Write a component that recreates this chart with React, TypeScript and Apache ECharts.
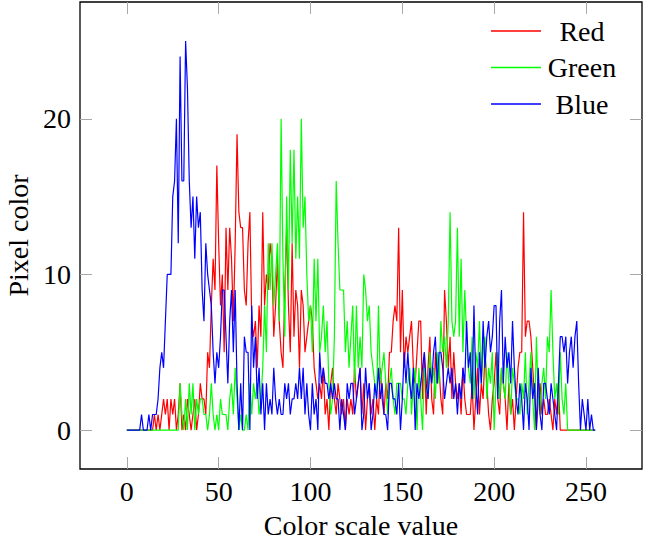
import React, { useEffect, useRef } from "react";
import * as echarts from "echarts";

// Histogram counts for colour-scale values 0..255 (16 values per row)
const redCounts = [
  0,0,0,0,0,0,0,0,0,0,0,0,0,0,0,1,
  0,1,0,1,2,1,2,0,2,1,2,0,1,3,0,1,
  0,2,1,0,1,2,0,1,3,2,2,1,5,4,8,11,
  9,17,12,8,10,5,13,9,13,11,7,12,19,14,13,13,
  9,8,12,14,7,6,7,4,8,6,14,8,10,9,12,11,
  6,8,11,7,5,4,9,13,8,5,12,6,9,8,4,9,
  8,5,6,7,8,7,4,3,2,3,2,4,1,2,0,3,
  4,2,1,3,2,1,2,0,2,1,2,1,4,2,3,4,
  1,3,0,2,3,1,2,0,2,1,4,2,1,3,2,5,
  5,7,8,7,13,5,9,4,6,5,6,7,4,3,5,7,
  7,2,5,1,4,6,2,1,5,3,4,2,1,9,7,4,
  6,2,5,3,2,3,1,4,2,1,1,1,3,0,2,4,
  1,3,2,5,3,1,0,2,3,5,2,1,4,3,2,0,
  3,1,2,0,2,4,5,5,14,6,7,7,6,4,2,0,
  2,3,1,2,1,1,2,1,0,2,1,3,0,0,0,0,
  0,0,0,0,0,0,0,0,0,0,0,0,0,0,0,0,
];

const greenCounts = [
  0,0,0,0,0,0,0,0,0,0,0,0,0,0,0,0,
  0,0,0,0,0,0,0,0,0,0,0,0,0,3,1,0,
  2,0,3,1,3,0,2,1,2,2,1,1,0,1,3,1,
  0,1,0,2,1,1,1,0,2,3,1,4,2,0,1,0,
  0,1,0,3,1,3,2,3,1,2,4,8,5,12,9,12,
  8,10,12,7,20,11,6,15,9,18,12,18,11,15,11,20,
  13,15,10,7,8,5,11,7,11,5,6,8,5,7,3,1,
  2,6,16,12,9,9,9,5,7,4,6,8,3,8,4,6,
  4,10,9,7,8,5,4,3,2,8,3,4,5,3,1,3,
  4,2,1,3,3,3,2,2,1,3,4,1,3,4,0,4,
  2,0,4,3,2,5,3,4,2,5,3,7,5,6,4,7,
  14,7,6,7,13,6,11,5,9,6,4,3,6,2,5,4,
  7,3,5,6,2,4,3,5,0,3,5,2,4,3,2,5,
  3,1,4,3,2,2,1,3,2,5,1,3,5,2,0,6,
  2,1,3,4,2,6,5,9,5,2,3,1,5,2,1,3,
  0,0,0,0,0,0,0,0,0,0,0,0,0,0,0,0,
];

const blueCounts = [
  0,0,0,0,0,0,0,0,1,0,0,0,1,0,1,1,
  1,2,4,5,4,7,10,10,10,15,16,20,12,24,16,16,
  25,22,16,13,15,11,15,13,14,9,7,12,10,9,8,5,
  3,5,4,6,9,9,6,3,7,9,5,9,3,0,3,0,
  6,5,5,0,8,4,6,2,4,1,3,0,3,1,2,1,
  4,2,1,2,1,1,3,2,3,1,2,2,3,2,4,2,
  4,1,3,1,0,3,1,2,0,5,3,4,3,3,2,3,
  2,3,2,2,0,2,1,0,3,2,3,3,1,2,3,4,
  0,1,4,2,3,0,1,3,2,4,2,3,1,1,0,3,
  3,2,2,1,3,0,2,5,3,5,3,2,4,0,3,2,
  3,4,5,3,2,4,3,5,6,3,5,5,4,2,3,4,
  3,4,2,3,1,3,2,4,3,7,4,5,2,8,3,1,
  5,3,7,4,6,7,5,6,8,8,2,7,9,3,6,4,
  5,3,7,4,2,1,3,2,0,3,2,0,4,2,3,0,
  4,1,0,3,3,2,1,3,2,1,0,3,6,6,5,6,
  3,5,6,4,6,7,3,0,2,1,0,2,0,1,0,0,
];

const seriesNames = ["Red", "Green", "Blue"];
const xTicks = [0, 50, 100, 150, 200, 250];
const yTicks = [0, 10, 20];

const FONT = "'Liberation Serif', 'Times New Roman', serif";
const TICK_COLOR = "#a8a8a8";

function toPoints(values: number[]) {
  return values.map((v, i) => [i, v]);
}

export default function App() {
  const ref = useRef<HTMLDivElement | null>(null);

  useEffect(() => {
    if (!ref.current) return;
    const chart = echarts.init(ref.current, null, { renderer: "svg" });
    const colors = ["#ff0000", "#00ff00", "#0000ff"];
    const data = [redCounts, greenCounts, blueCounts];

    const tickStyle = { color: TICK_COLOR, width: 1 };
    const labelStyle = { fontFamily: FONT, fontSize: 28, color: "#000" };
    const hiddenLine = { show: false, onZero: false };

    chart.setOption({
      animation: false,
      grid: {
        left: 80,
        right: 3,
        top: 2,
        bottom: 72,
        show: true,
        borderColor: "#000",
        borderWidth: 1.3,
        backgroundColor: "transparent",
        containLabel: false,
        outerBoundsMode: "none",
      },
      legend: {
        orient: "vertical",
        left: 491,
        top: 17,
        padding: 0,
        itemWidth: 50,
        itemHeight: 1.5,
        itemGap: 8.5,
        itemTextGap: 5,
        icon: "rect",
        data: seriesNames,
        formatter: "{a|{name}}",
        textStyle: {
          rich: {
            a: {
              width: 72,
              align: "center",
              fontFamily: FONT,
              fontSize: 28,
              lineHeight: 28,
              color: "#000",
            },
          },
        },
      },
      xAxis: [
        {
          type: "value",
          min: -25.5,
          max: 280.5,
          position: "bottom",
          splitLine: { show: false },
          axisLine: hiddenLine,
          axisTick: { inside: true, length: 12, customValues: xTicks, lineStyle: tickStyle },
          axisLabel: { customValues: xTicks, margin: 8, ...labelStyle },
          name: "Color scale value",
          nameLocation: "middle",
          nameGap: 42,
          nameTextStyle: { ...labelStyle },
        },
        {
          type: "value",
          min: -25.5,
          max: 280.5,
          position: "top",
          splitLine: { show: false },
          axisLine: hiddenLine,
          axisTick: { inside: true, length: 12, customValues: xTicks, lineStyle: tickStyle },
          axisLabel: { show: false },
        },
      ],
      yAxis: [
        {
          type: "value",
          min: -2.5,
          max: 27.5,
          position: "left",
          splitLine: { show: false },
          axisLine: hiddenLine,
          axisTick: { inside: true, length: 12, customValues: yTicks, lineStyle: tickStyle },
          axisLabel: { customValues: yTicks, margin: 9, ...labelStyle },
          name: "Pixel color",
          nameLocation: "middle",
          nameGap: 47,
          nameTextStyle: { ...labelStyle },
        },
        {
          type: "value",
          min: -2.5,
          max: 27.5,
          position: "right",
          splitLine: { show: false },
          axisLine: hiddenLine,
          axisTick: { inside: true, length: 12, customValues: yTicks, lineStyle: tickStyle },
          axisLabel: { show: false },
        },
      ],
      series: seriesNames.map((name, k) => ({
        name,
        type: "line",
        xAxisIndex: 0,
        yAxisIndex: 0,
        data: toPoints(data[k]),
        showSymbol: false,
        symbol: "none",
        itemStyle: { color: colors[k] },
        lineStyle: { color: colors[k], width: 1.2 },
        z: 2 + k,
      })),
    });

    return () => chart.dispose();
  }, []);

  return <div ref={ref} style={{ width: 645, height: 541, position: "absolute", left: 0, top: 0 }} />;
}
